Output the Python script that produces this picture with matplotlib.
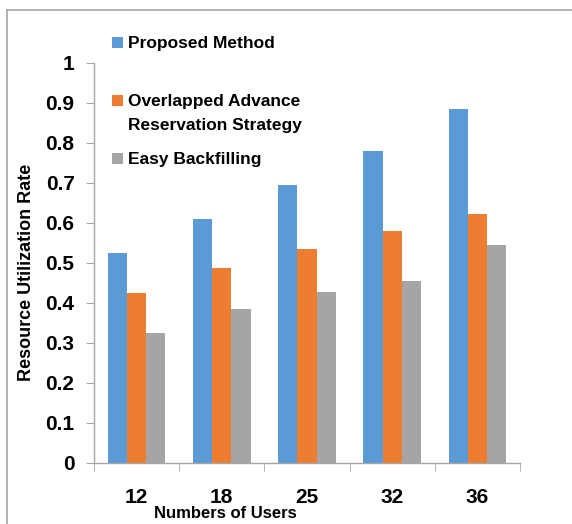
import matplotlib
matplotlib.use("Agg")
import matplotlib.pyplot as plt
import numpy as np
from matplotlib.patches import Rectangle
from matplotlib.lines import Line2D

categories = ["12", "18", "25", "32", "36"]
series_names = ["Proposed Method", "Overlapped Advance\nReservation Strategy", "Easy Backfilling"]
proposed = [0.525, 0.61, 0.696, 0.78, 0.885]
overlapped = [0.426, 0.488, 0.536, 0.581, 0.623]
easy = [0.325, 0.385, 0.428, 0.455, 0.545]
colors = ["#5B9BD5", "#ED7D31", "#A5A5A5"]
yticks = [0, 0.1, 0.2, 0.3, 0.4, 0.5, 0.6, 0.7, 0.8, 0.9, 1]
ytick_labels = ["0", "0.1", "0.2", "0.3", "0.4", "0.5", "0.6", "0.7", "0.8", "0.9", "1"]

plt.rcParams['font.family'] = ['Liberation Sans', 'DejaVu Sans']

W, H = 572, 524
fig = plt.figure(figsize=(W / 100, H / 100), dpi=100)
# axes: x 94..520, y 63..463 (pixels from top)
ax = fig.add_axes([94 / W, 1 - 463 / H, (520 - 94) / W, (463 - 63) / H])

x = np.arange(len(categories))
bw = 0.225
for i, (vals, c) in enumerate(zip([proposed, overlapped, easy], colors)):
    ax.bar(x + (i - 1) * bw, vals, width=bw, color=c, edgecolor='none', zorder=2)

ax.set_xlim(-0.5, len(categories) - 0.5)
ax.set_ylim(0, 1)
ax.set_yticks(yticks)
ax.set_yticklabels(ytick_labels, fontsize=15, fontweight='bold')
ax.set_xticks(x)
ax.set_xticklabels(categories, fontsize=15, fontweight='bold')
ax.tick_params(axis='x', length=0, pad=18)
ax.set_xticks(np.arange(len(categories) + 1) - 0.5, minor=True)
ax.tick_params(axis='x', which='minor', length=6, color='#A6A6A6', direction='out')
ax.tick_params(axis='y', length=6, color='#A6A6A6', direction='out', pad=8)
for s in ['top', 'right']:
    ax.spines[s].set_visible(False)
for s in ['left', 'bottom']:
    ax.spines[s].set_color('#A6A6A6')
    ax.spines[s].set_linewidth(1.0)

fig.text(27 / W, 1 - 272 / H, "Resource Utilization Rate", fontsize=13, fontweight='bold',
         rotation=90, ha='center', va='center')
fig.text(225 / W, 1 - 514 / H, "Numbers of Users", fontsize=12, fontweight='bold',
         ha='center', va='center')

# legend (manual, Excel-like layout)
leg_top = [37, 95, 153]
for name, c, yy in zip(series_names, colors, leg_top):
    fig.patches.append(Rectangle((112 / W, 1 - (yy + 11) / H), 11 / W, 11 / H,
                                 transform=fig.transFigure, facecolor=c, edgecolor='none'))
    fig.text(128 / W, 1 - (yy - 1) / H, name, fontsize=12.5, fontweight='bold', ha='left', va='top',
             linespacing=1.72, transform=fig.transFigure)

# outer border
fig.add_artist(Line2D([7 / W, 7 / W], [0, 1 - 10 / H], transform=fig.transFigure,
                      color='#A6A6A6', lw=1.2))
fig.add_artist(Line2D([7 / W, 1], [1 - 10 / H, 1 - 10 / H], transform=fig.transFigure,
                      color='#A6A6A6', lw=1.2))

fig.savefig("out.png", dpi=100)
